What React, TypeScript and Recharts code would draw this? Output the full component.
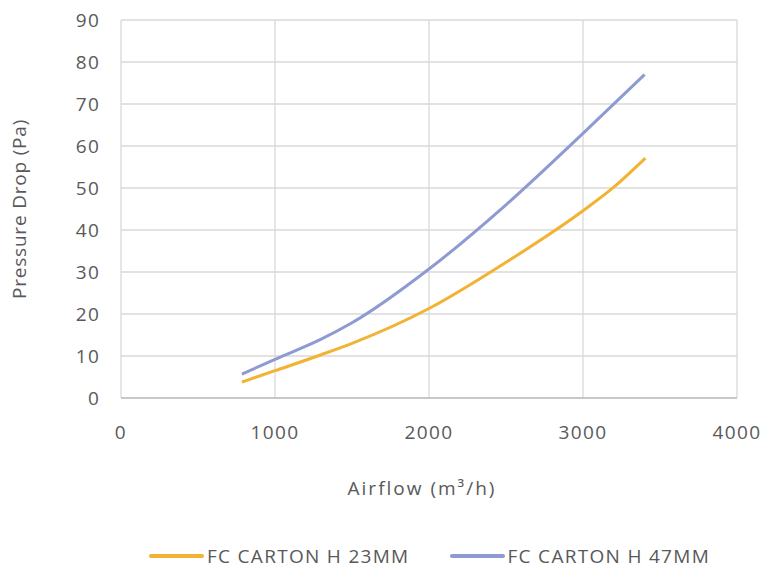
import React from 'react';
import { LineChart, Line, XAxis, YAxis, CartesianGrid, Legend } from 'recharts';

const airflow23 = [785, 1000, 1300, 1500, 2000, 2500, 3000, 3200, 3405];
const pressure23 = [3.8, 6.5, 10.3, 13.0, 21.3, 32.3, 44.6, 50.2, 57.1];
const airflow47 = [785, 1000, 1300, 1500, 2000, 2500, 3000, 3400];
const pressure47 = [5.7, 9.2, 14.0, 17.9, 30.7, 46.0, 63.0, 77.0];
const xTicks = [0, 1000, 2000, 3000, 4000];
const yTicks = [0, 10, 20, 30, 40, 50, 60, 70, 80, 90];
const seriesNames = ['FC CARTON H 23MM', 'FC CARTON H 47MM'];
const colors = ['#F2B233', '#8E9AD2'];

const data23 = airflow23.map((x, i) => ({ x, y: pressure23[i] }));
const data47 = airflow47.map((x, i) => ({ x, y: pressure47[i] }));

const FONT = '"Open Sans", sans-serif';
const TEXT = '#595959';

const LegendContent = () => (
  <div style={{ display: 'flex', justifyContent: 'center', gap: 40, paddingLeft: 80, fontFamily: FONT, fontSize: 19, letterSpacing: 1.3, color: TEXT }}>
    {seriesNames.map((n, i) => (
      <div key={n} style={{ display: 'flex', alignItems: 'center' }}>
        <div style={{ width: 55, height: 4, background: colors[i], marginRight: 3, borderRadius: 2 }} />
        <span>{n}</span>
      </div>
    ))}
  </div>
);

export default function App() {
  return (
    <div style={{ position: 'absolute', left: 0, top: 0, width: 779, height: 569, background: '#fff' }}>
      <LineChart width={779} height={569} margin={{ top: 20, right: 42, left: 0, bottom: 45 }}>
        <CartesianGrid stroke="#d9d9d9" strokeWidth={1.3} />
        <XAxis
          type="number"
          dataKey="x"
          domain={[0, 4000]}
          ticks={xTicks}
          allowDuplicatedCategory={false}
          tickLine={false}
          axisLine={{ stroke: '#bfbfbf', strokeWidth: 1.5 }}
          tick={{ fill: TEXT, fontSize: 19, fontFamily: FONT, letterSpacing: 1.4 }}
          tickSize={0}
          tickMargin={28}
          height={100}
          label={{ value: 'Airflow (m³/h)', position: 'insideBottom', offset: 3, dx: -7, fill: TEXT, fontSize: 19, fontFamily: FONT, letterSpacing: 2 }}
        />
        <YAxis
          type="number"
          domain={[0, 90]}
          ticks={yTicks}
          width={121}
          tickLine={false}
          axisLine={false}
          tick={{ fill: TEXT, fontSize: 19, fontFamily: FONT, letterSpacing: 1.2 }}
          tickSize={0}
          tickMargin={21}
          label={{ value: 'Pressure Drop (Pa)', angle: -90, position: 'insideLeft', offset: 19, fill: TEXT, fontSize: 19, fontFamily: FONT, letterSpacing: 0.8, style: { textAnchor: 'middle' } }}
        />
        <Legend content={LegendContent} wrapperStyle={{ top: 543, left: 0, width: 779 }} />
        <Line data={data23} dataKey="y" name={seriesNames[0]} type="monotone" stroke={colors[0]} strokeWidth={3} dot={false} isAnimationActive={false} />
        <Line data={data47} dataKey="y" name={seriesNames[1]} type="monotone" stroke={colors[1]} strokeWidth={3} dot={false} isAnimationActive={false} />
      </LineChart>
    </div>
  );
}
